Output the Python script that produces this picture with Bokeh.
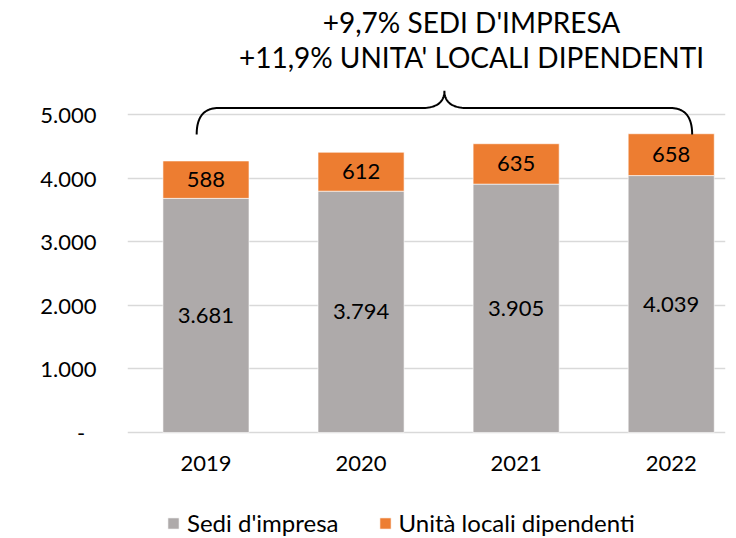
import numpy as np
from bokeh.plotting import figure
from bokeh.models import (ColumnDataSource, Range1d, FixedTicker, Legend, LegendItem,
                          Label, LabelSet)
from bokeh.core.properties import value
from bokeh.embed import file_html
from bokeh.resources import INLINE

years = ["2019", "2020", "2021", "2022"]
sedi = [3681, 3794, 3905, 4039]
unita = [588, 612, 635, 658]
y_ticks = [0, 1000, 2000, 3000, 4000, 5000]
title_lines = ["+9,7% SEDI D'IMPRESA", "+11,9% UNITA' LOCALI DIPENDENTI"]
legend_labels = ["Sedi d'impresa", "Unità locali dipendenti"]

GRAY = "#AEAAAA"
ORANGE = "#ED7D31"
FONT = "Lato"

def it_fmt(v):
    return f"{v:,}".replace(",", ".")

xs = list(range(len(years)))
totals = [a + b for a, b in zip(sedi, unita)]
src = ColumnDataSource(dict(
    x=xs, sedi=sedi, unita=unita,
    sedi_mid=[a / 2 for a in sedi],
    unita_mid=[a + b / 2 for a, b in zip(sedi, unita)],
    sedi_lbl=[it_fmt(v) for v in sedi],
    unita_lbl=[it_fmt(v) for v in unita],
))

p = figure(width=736, height=538, output_backend="svg", toolbar_location=None,
           x_range=Range1d(-0.506, 3.35), y_range=Range1d(-1667, 6792),
           min_border_left=127, min_border_right=11, min_border_top=0,
           min_border_bottom=0)
p.outline_line_color = None
p.background_fill_color = "white"

rs = p.vbar_stack(["sedi", "unita"], x="x", width=0.555, color=[GRAY, ORANGE],
                  line_color="white", line_alpha=0.6, line_width=1, source=src)

# value labels
for ycol, tcol in (("sedi_mid", "sedi_lbl"), ("unita_mid", "unita_lbl")):
    p.add_layout(LabelSet(x="x", y=ycol, text=tcol, source=src,
                          text_align="center", text_baseline="middle",
                          text_font=value(FONT), text_font_size="22px",
                          text_color="#000000"))

# axes
p.yaxis.ticker = FixedTicker(ticks=y_ticks)
p.yaxis.major_label_overrides = {t: ("-\u00a0\u00a0" if t == 0 else it_fmt(t)) for t in y_ticks}
p.yaxis.axis_line_color = None
p.yaxis.major_tick_line_color = None
p.yaxis.minor_tick_line_color = None
p.yaxis.major_label_text_font = FONT
p.yaxis.major_label_text_font_size = "22px"
p.yaxis.major_label_text_color = "#000000"
p.yaxis.major_label_standoff = 25

p.xaxis.ticker = FixedTicker(ticks=xs)
p.xaxis.fixed_location = 0
p.xaxis.major_label_overrides = {x: y for x, y in zip(xs, years)}
p.xaxis.axis_line_color = None
p.xaxis.major_tick_line_color = None
p.xaxis.minor_tick_line_color = None
p.xaxis.major_label_text_font = FONT
p.xaxis.major_label_text_font_size = "22px"
p.xaxis.major_label_text_color = "#000000"
p.xaxis.major_label_standoff = 18

p.xgrid.grid_line_color = None
p.ygrid.grid_line_color = "#D9D9D9"
p.ygrid.grid_line_width = 1.5

# title lines
for i, t in enumerate(title_lines):
    p.add_layout(Label(x=344, y=517 - i * 35, x_units="screen", y_units="screen",
                       text=t, text_align="center", text_baseline="middle",
                       text_font=FONT, text_font_size="28px", text_color="#000000"))

# brace spanning the bars
top = max(totals)
bx0 = xs[0] - 0.06
bx1 = xs[-1] + 0.135
bm = (bx0 + bx1) / 2
yb = top - 11
yh = top + 404
yt = top + 676
rx = 0.14
mx = 0.15

def quad(p0, c, p1, n=24):
    t = np.linspace(0, 1, n)[:, None]
    p0, c, p1 = map(np.array, (p0, c, p1))
    return (1 - t) ** 2 * p0 + 2 * (1 - t) * t * c + t ** 2 * p1

segs = [
    quad((bx0, yb), (bx0, yh), (bx0 + rx, yh)),
    np.array([(bx0 + rx, yh), (bm - mx, yh)]),
    quad((bm - mx, yh), (bm, yh), (bm, yt)),
    quad((bm, yt), (bm, yh), (bm + mx, yh)),
    np.array([(bm + mx, yh), (bx1 - rx, yh)]),
    quad((bx1 - rx, yh), (bx1, yh), (bx1, yb)),
]
path = np.vstack(segs)
p.line(path[:, 0], path[:, 1], line_color="black", line_width=2)

legend = Legend(items=[LegendItem(label=legend_labels[i], renderers=[rs[i]]) for i in range(2)],
                orientation="horizontal", location=(39, 1),
                label_text_font=FONT, label_text_font_size="24px",
                label_text_color="#000000",
                glyph_width=14, glyph_height=14, label_standoff=7, spacing=39,
                border_line_color=None, background_fill_alpha=0,
                padding=0, margin=0)
p.add_layout(legend, "center")

open("out.html", "w").write(file_html(p, INLINE))
